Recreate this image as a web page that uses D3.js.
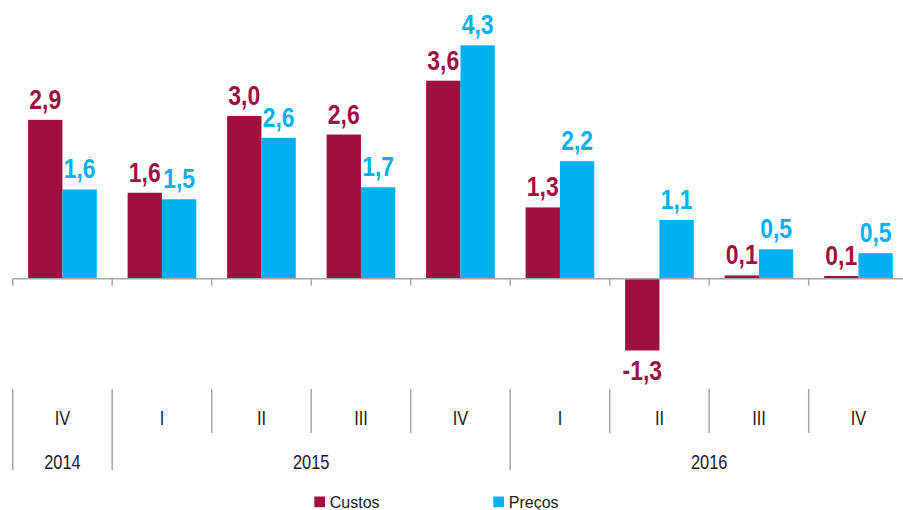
<!DOCTYPE html>
<html>
<head>
<meta charset="utf-8">
<script src="https://cdn.jsdelivr.net/npm/d3@7"></script>
<style>
  body { margin: 0; background: #fff; }
  text { font-family: "Liberation Sans", Arial, sans-serif; }
</style>
</head>
<body>
<script>
// chart data
var quarters = ["IV", "I", "II", "III", "IV", "I", "II", "III", "IV"];
var years = [
    {label: "2014", from: 0, to: 1},
    {label: "2015", from: 1, to: 5},
    {label: "2016", from: 5, to: 9}
];
var custos = [2.92, 1.58, 2.99, 2.65, 3.64, 1.31, -1.32, 0.06, 0.05];
var precos = [1.64, 1.46, 2.59, 1.68, 4.29, 2.16, 1.08, 0.54, 0.47];
var seriesNames = ["Custos", "Preços"];
var colors = ["#9E1040", "#00B0F0"];

var w = 903, h = 510;
var narrow = 0.82; // horizontal squeeze to mimic a condensed face

var svg = d3.select("body")
    .append("svg")
    .attr("width", w)
    .attr("height", h);

// one row per quarter
var rows = quarters.map(function(q, i){
    return {i: i, q: q, values: [custos[i], precos[i]]};
});

// band scale over the quarters
var x = d3.scaleBand()
    .domain(d3.range(quarters.length))
    .range([12.7, 908.2])
    .padding(0);

// the two bars inside each band
var x1 = d3.scaleBand()
    .domain([0, 1])
    .range([0, x.bandwidth() * 0.69])
    .padding(0);
var groupOffset = (x.bandwidth() - x.bandwidth() * 0.69) / 2;

var y = d3.scaleLinear()
    .domain([-2, 4.5])
    .range([387.5, 33.9]);

var locale = d3.formatLocale({decimal: ",", thousands: ".", grouping: [3], currency: ["", "€"], minus: "-"});
var fmt = locale.format(".1f");

// bars
var groups = svg.selectAll(".group")
    .data(rows)
    .enter()
    .append("g")
    .attr("class", "group")
    .attr("transform", function(d){ return "translate(" + (x(d.i) + groupOffset) + ",0)"; });

var pairs = function(d){ return d.values.map(function(v, k){ return {k: k, v: v}; }); };

groups.selectAll(".bar")
    .data(pairs)
    .enter()
    .append("rect")
    .attr("class", "bar")
    .attr("x", function(d){ return x1(d.k); })
    .attr("width", x1.bandwidth())
    .attr("y", function(d){ return y(Math.max(0, d.v)); })
    .attr("height", function(d){ return Math.abs(y(d.v) - y(0)); })
    .style("fill", function(d){ return colors[d.k]; });

// value labels
groups.selectAll(".val")
    .data(pairs)
    .enter()
    .append("text")
    .attr("class", "val")
    .attr("text-anchor", "middle")
    .attr("transform", function(d){
        var tx = x1(d.k) + x1.bandwidth() / 2;
        var ty = d.v >= 0 ? y(d.v) - 11 : y(d.v) + 29;
        return "translate(" + tx + "," + ty + ") scale(" + narrow + ",1)";
    })
    .style("font-size", "28px")
    .style("font-weight", "bold")
    .style("fill", function(d){ return colors[d.k]; })
    .text(function(d){ return fmt(d.v); });

// zero axis with ticks at band edges
var axisY = y(0);
svg.append("line")
    .attr("x1", 12.7).attr("x2", w)
    .attr("y1", axisY).attr("y2", axisY)
    .style("stroke", "#a6a6a6").style("stroke-width", 1.5);

var edges = d3.range(quarters.length + 1).map(function(i){ return x.range()[0] + i * x.step(); });

svg.selectAll(".tick0")
    .data(edges)
    .enter()
    .append("line")
    .attr("class", "tick0")
    .attr("x1", function(d){ return d; }).attr("x2", function(d){ return d; })
    .attr("y1", axisY).attr("y2", axisY + 7)
    .style("stroke", "#a6a6a6").style("stroke-width", 1.5);

// category separators below
var yearEdges = years.map(function(d){ return d.from; });
svg.selectAll(".sep")
    .data(d3.range(quarters.length + 1))
    .enter()
    .append("line")
    .attr("class", "sep")
    .attr("x1", function(i){ return edges[i]; }).attr("x2", function(i){ return edges[i]; })
    .attr("y1", 389)
    .attr("y2", function(i){ return yearEdges.indexOf(i) >= 0 ? 470 : 433; })
    .style("stroke", "#a6a6a6").style("stroke-width", 1.5);

svg.selectAll(".qlabel")
    .data(rows)
    .enter()
    .append("text")
    .attr("class", "qlabel")
    .attr("text-anchor", "middle")
    .attr("transform", function(d){
        return "translate(" + (x(d.i) + x.bandwidth() / 2) + ",425) scale(" + narrow + ",1)";
    })
    .style("font-size", "20px")
    .style("fill", "#1a1a1a")
    .text(function(d){ return d.q; });

svg.selectAll(".ylabel")
    .data(years)
    .enter()
    .append("text")
    .attr("class", "ylabel")
    .attr("text-anchor", "middle")
    .attr("transform", function(d){
        return "translate(" + ((edges[d.from] + edges[d.to]) / 2) + ",469) scale(" + narrow + ",1)";
    })
    .style("font-size", "20px")
    .style("fill", "#1a1a1a")
    .text(function(d){ return d.label; });

// legend
var legendX = [314.3, 493.3];
var legend = svg.selectAll(".legend")
    .data(seriesNames)
    .enter()
    .append("g")
    .attr("class", "legend")
    .attr("transform", function(d, i){ return "translate(" + legendX[i] + ",0)"; });

legend.append("rect")
    .attr("x", 0).attr("y", 496.5)
    .attr("width", 10.7).attr("height", 10.7)
    .style("fill", function(d, i){ return colors[i]; });

legend.append("text")
    .attr("transform", "translate(15.5,507.5) scale(0.94,1)")
    .style("font-size", "17px")
    .style("fill", "#1a1a1a")
    .text(function(d){ return d; });
</script>
</body>
</html>
